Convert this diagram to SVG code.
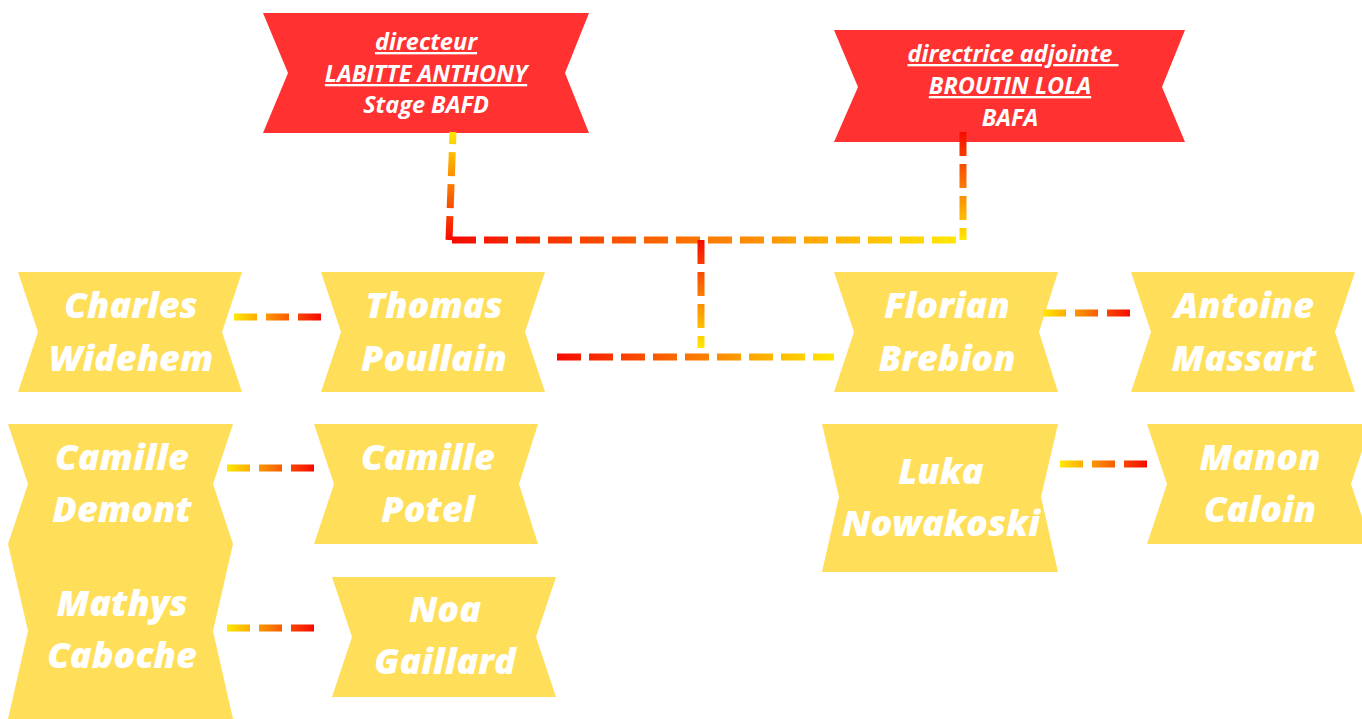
<svg xmlns="http://www.w3.org/2000/svg" width="1362" height="719" viewBox="0 0 1362 719">
<style>
.banner{fill:#FF3131}
.node{fill:#FFDE59}
.bt{font-family:"Open Sans","Liberation Sans",sans-serif;font-weight:700;font-style:italic;font-size:23.5px;fill:#FFFFFF;text-anchor:middle}
.u{text-decoration:underline}
.nt{font-family:"Open Sans","Liberation Sans",sans-serif;font-weight:800;font-style:italic;font-size:36px;fill:#FFFFFF;text-anchor:middle}
.c{fill:none;stroke-width:7;stroke-dasharray:24 8}
.s{fill:none;stroke-width:7;stroke-dasharray:23 9}
</style>
<defs>
<linearGradient id="gLV" gradientUnits="userSpaceOnUse" x1="0" y1="132" x2="0" y2="240"><stop offset="0" stop-color="#FFE800"/><stop offset="1" stop-color="#F60A00"/></linearGradient>
<linearGradient id="gTH" gradientUnits="userSpaceOnUse" x1="452" y1="0" x2="957" y2="0"><stop offset="0" stop-color="#F60A00"/><stop offset="1" stop-color="#FFE800"/></linearGradient>
<linearGradient id="gRV" gradientUnits="userSpaceOnUse" x1="0" y1="132" x2="0" y2="240"><stop offset="0" stop-color="#F60A00"/><stop offset="1" stop-color="#FFE800"/></linearGradient>
<linearGradient id="gCV" gradientUnits="userSpaceOnUse" x1="0" y1="240" x2="0" y2="348"><stop offset="0" stop-color="#F60A00"/><stop offset="1" stop-color="#FFE800"/></linearGradient>
<linearGradient id="gBH" gradientUnits="userSpaceOnUse" x1="557" y1="0" x2="834" y2="0"><stop offset="0" stop-color="#F60A00"/><stop offset="1" stop-color="#FFE800"/></linearGradient>
<linearGradient id="gS1" gradientUnits="userSpaceOnUse" x1="234" y1="0" x2="321" y2="0"><stop offset="0" stop-color="#FFE800"/><stop offset="1" stop-color="#F60A00"/></linearGradient>
<linearGradient id="gS2" gradientUnits="userSpaceOnUse" x1="227" y1="0" x2="314" y2="0"><stop offset="0" stop-color="#FFE800"/><stop offset="1" stop-color="#F60A00"/></linearGradient>
<linearGradient id="gS3" gradientUnits="userSpaceOnUse" x1="1043" y1="0" x2="1131" y2="0"><stop offset="0" stop-color="#FFE800"/><stop offset="1" stop-color="#F60A00"/></linearGradient>
<linearGradient id="gS4" gradientUnits="userSpaceOnUse" x1="1060" y1="0" x2="1147" y2="0"><stop offset="0" stop-color="#FFE800"/><stop offset="1" stop-color="#F60A00"/></linearGradient>
</defs>
<rect width="1362" height="719" fill="#FFFFFF"/>

<g id="directeur">
<polygon class="banner" points="263,13 589,13 565,73 589,133 263,133 288,73"/>
<text class="bt" x="426" y="50"><tspan class="u">directeur</tspan></text>
<text class="bt" x="426" y="82"><tspan class="u">LABITTE ANTHONY</tspan></text>
<text class="bt" x="426" y="113">Stage BAFD</text>
</g>

<g id="directrice">
<polygon class="banner" points="834,30 1185,30 1162,87 1185,142 834,142 858,87"/>
<text class="bt" x="1013" y="62" xml:space="preserve"><tspan class="u">directrice adjointe </tspan></text>
<text class="bt" x="1010" y="94"><tspan class="u">BROUTIN LOLA</tspan></text>
<text class="bt" x="1010" y="126">BAFA</text>
</g>

<g id="charles">
<polygon class="node" points="18,272 242,272 222,332 242,392 18,392 38,332"/>
<text class="nt" x="131" y="318">Charles</text>
<text class="nt" x="131" y="371">Widehem</text>
</g>
<g id="thomas">
<polygon class="node" points="321,272 545,272 525,332 545,392 321,392 341,332"/>
<text class="nt" x="434" y="318">Thomas</text>
<text class="nt" x="434" y="371">Poullain</text>
</g>
<g id="camille-demont">
<polygon class="node" points="8,424 233,424 213,484 233,544 8,544 28,484"/>
<text class="nt" x="122" y="470">Camille</text>
<text class="nt" x="122" y="522">Demont</text>
</g>
<g id="camille-potel">
<polygon class="node" points="314,424 538,424 519,484 538,544 314,544 334,484"/>
<text class="nt" x="428" y="470">Camille</text>
<text class="nt" x="428" y="522">Potel</text>
</g>
<g id="mathys">
<polygon class="node" points="8,544 233,544 213,631 233,719 8,719 28,631"/>
<text class="nt" x="122" y="616">Mathys</text>
<text class="nt" x="122" y="668">Caboche</text>
</g>
<g id="noa">
<polygon class="node" points="332,577 556,577 536,637 556,697 332,697 352,637"/>
<text class="nt" x="445" y="622">Noa</text>
<text class="nt" x="445" y="674">Gaillard</text>
</g>
<g id="florian">
<polygon class="node" points="834,272 1058,272 1039,332 1058,392 834,392 854,332"/>
<text class="nt" x="947" y="318">Florian</text>
<text class="nt" x="947" y="371">Brebion</text>
</g>
<g id="antoine">
<polygon class="node" points="1131,272 1355,272 1335,332 1355,392 1131,392 1151,332"/>
<text class="nt" x="1244" y="318">Antoine</text>
<text class="nt" x="1244" y="371">Massart</text>
</g>
<g id="luka">
<polygon class="node" points="822,424 1058,424 1041,497 1058,572 822,572 839,497"/>
<text class="nt" x="941" y="484">Luka</text>
<text class="nt" x="941" y="536">Nowakoski</text>
</g>
<g id="manon">
<polygon class="node" points="1147,424 1371,424 1351,484 1371,544 1147,544 1167,484"/>
<text class="nt" x="1260" y="470">Manon</text>
<text class="nt" x="1260" y="522">Caloin</text>
</g>

<g id="connectors">
<path class="c" d="M449,240 L453,132" stroke="url(#gLV)" stroke-dasharray="23 9"/>
<path class="c" d="M452,240 L957,240" stroke="url(#gTH)"/>
<path class="c" d="M963,132 L963,240" stroke="url(#gRV)"/>
<path class="c" d="M701,240 L701,348" stroke="url(#gCV)"/>
<path class="c" d="M557,357 L834,357" stroke="url(#gBH)"/>
<path class="s" d="M234,317 L321,317" stroke="url(#gS1)"/>
<path class="s" d="M227,468 L314,468" stroke="url(#gS2)"/>
<path class="s" d="M227,628 L314,628" stroke="url(#gS2)"/>
<path class="s" d="M1043,313 L1131,313" stroke="url(#gS3)"/>
<path class="s" d="M1060,464 L1147,464" stroke="url(#gS4)"/>
</g>
</svg>
